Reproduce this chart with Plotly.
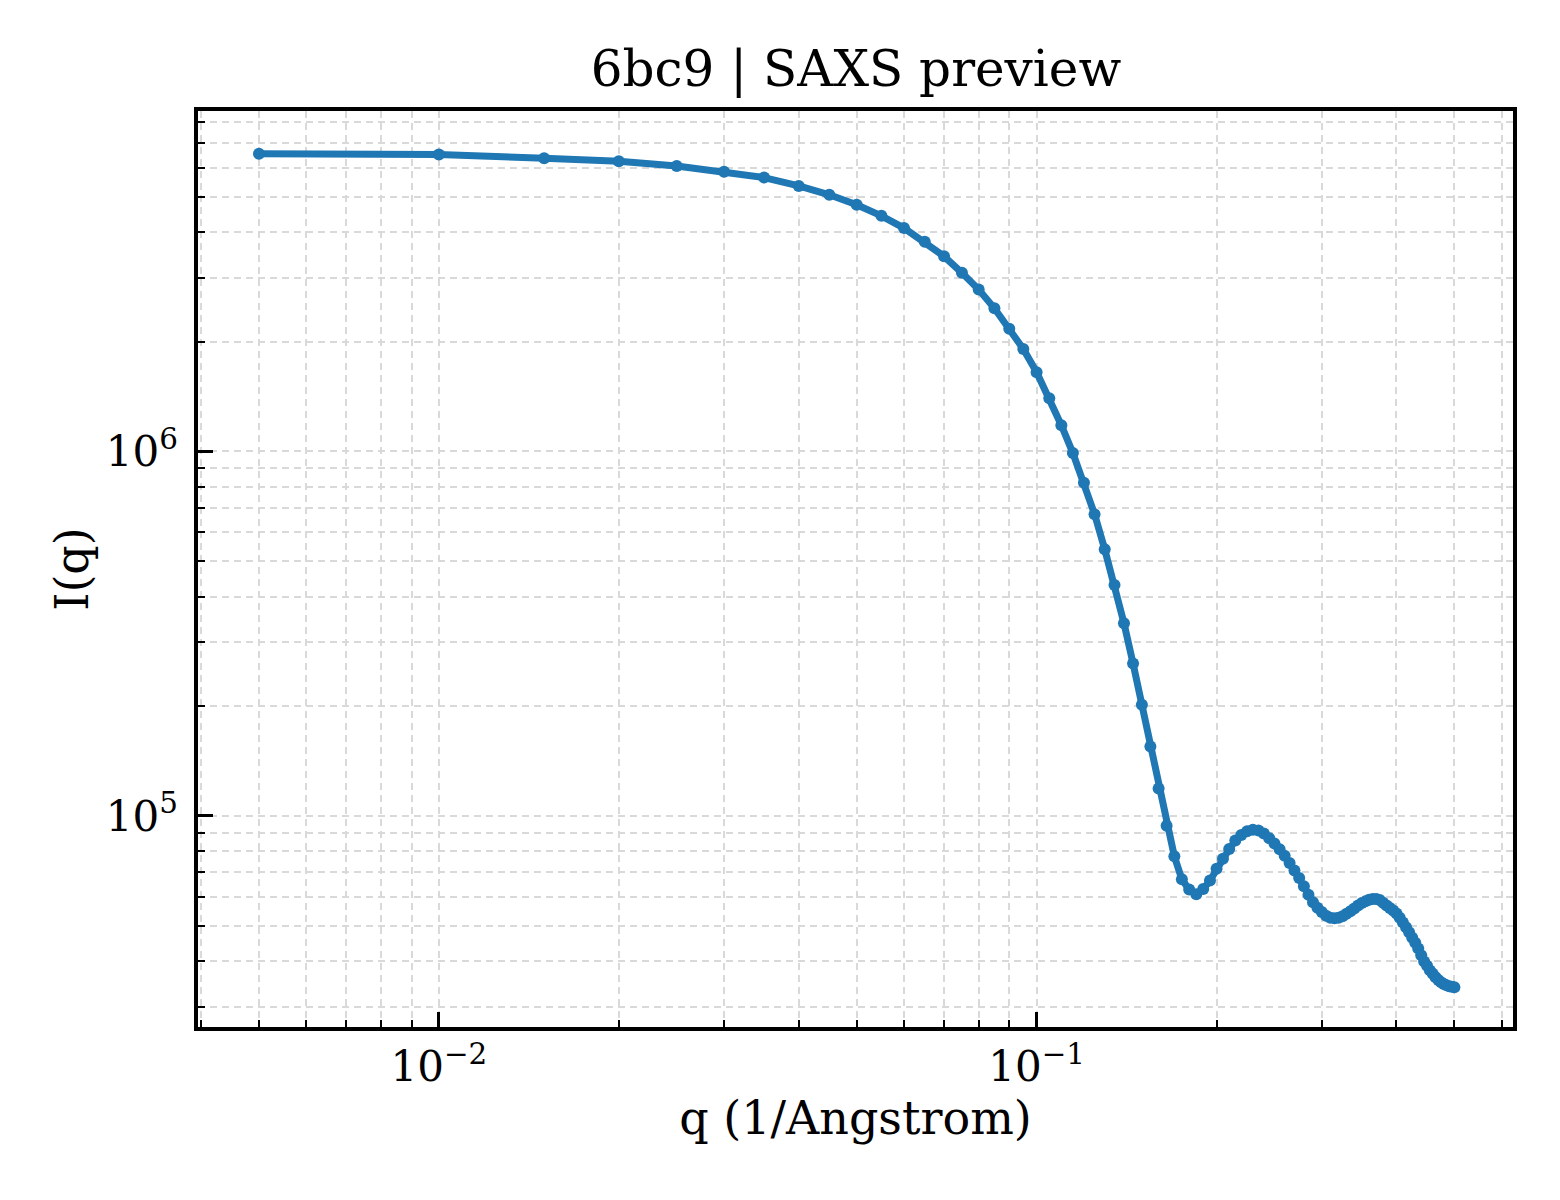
import plotly.graph_objects as go

# scattering vector q (1/Angstrom), sampled every 0.005
q = [0.005, 0.010, 0.015, 0.020, 0.025, 0.030, 0.035, 0.040, 0.045, 0.050,
     0.055, 0.060, 0.065, 0.070, 0.075, 0.080, 0.085, 0.090, 0.095, 0.100,
     0.105, 0.110, 0.115, 0.120, 0.125, 0.130, 0.135, 0.140, 0.145, 0.150,
     0.155, 0.160, 0.165, 0.170, 0.175, 0.180, 0.185, 0.190, 0.195, 0.200,
     0.205, 0.210, 0.215, 0.220, 0.225, 0.230, 0.235, 0.240, 0.245, 0.250,
     0.255, 0.260, 0.265, 0.270, 0.275, 0.280, 0.285, 0.290, 0.295, 0.300,
     0.305, 0.310, 0.315, 0.320, 0.325, 0.330, 0.335, 0.340, 0.345, 0.350,
     0.355, 0.360, 0.365, 0.370, 0.375, 0.380, 0.385, 0.390, 0.395, 0.400,
     0.405, 0.410, 0.415, 0.420, 0.425, 0.430, 0.435, 0.440, 0.445, 0.450,
     0.455, 0.460, 0.465, 0.470, 0.475, 0.480, 0.485, 0.490, 0.495, 0.500]

# intensity I(q)
intensity = [6.56e6, 6.53e6, 6.37e6, 6.25e6, 6.07e6, 5.85e6, 5.64e6, 5.35e6, 5.06e6, 4.75e6,
             4.43e6, 4.10e6, 3.76e6, 3.43e6, 3.09e6, 2.78e6, 2.47e6, 2.17e6, 1.91e6, 1.65e6,
             1.40e6, 1.18e6, 9.90e5, 8.20e5, 6.73e5, 5.39e5, 4.30e5, 3.38e5, 2.62e5, 2.02e5,
             1.55e5, 1.19e5, 9.40e4, 7.75e4, 6.70e4, 6.28e4, 6.10e4, 6.30e4, 6.65e4, 7.16e4,
             7.63e4, 8.11e4, 8.56e4, 8.87e4, 9.08e4, 9.16e4, 9.12e4, 8.95e4, 8.69e4, 8.40e4,
             8.10e4, 7.78e4, 7.43e4, 7.09e4, 6.76e4, 6.41e4, 6.08e4, 5.80e4, 5.60e4, 5.45e4,
             5.32e4, 5.26e4, 5.24e4, 5.26e4, 5.31e4, 5.39e4, 5.48e4, 5.57e4, 5.68e4, 5.77e4,
             5.83e4, 5.89e4, 5.92e4, 5.92e4, 5.88e4, 5.78e4, 5.68e4, 5.59e4, 5.50e4, 5.40e4,
             5.26e4, 5.10e4, 4.95e4, 4.80e4, 4.63e4, 4.49e4, 4.33e4, 4.15e4, 3.99e4, 3.88e4,
             3.77e4, 3.69e4, 3.61e4, 3.55e4, 3.50e4, 3.46e4, 3.43e4, 3.41e4, 3.40e4, 3.39e4]

x_ticks = [0.01, 0.1]
x_ticklabels = ["10<sup>−2</sup>", "10<sup>−1</sup>"]
y_ticks = [1e5, 1e6]
y_ticklabels = ["10<sup>5</sup>", "10<sup>6</sup>"]

x_minor = [m * 10.0 ** e for e in (-3, -2, -1) for m in range(2, 10)]
y_minor = [m * 10.0 ** e for e in (4, 5, 6) for m in range(2, 10)]

FONT = "DejaVu Serif"
GRID = "#d9d9d9"

fig = go.Figure()
fig.add_trace(go.Scatter(
    x=q, y=intensity, mode="lines+markers",
    line=dict(color="#1f77b4", width=7),
    marker=dict(color="#1f77b4", size=12),
    showlegend=False,
))

axis_common = dict(
    type="log",
    showline=True, linecolor="black", linewidth=3.5, mirror=True,
    ticks="inside", ticklen=15, tickwidth=3, tickcolor="black",
    tickfont=dict(family=FONT, size=42, color="black"),
    showgrid=True, gridcolor=GRID, gridwidth=2, griddash="7px,5px",
    zeroline=False,
)

fig.update_xaxes(
    **axis_common,
    range=[-2.403, -0.203],
    tickmode="array", tickvals=x_ticks, ticktext=x_ticklabels,
    ticklabelstandoff=0,
    minor=dict(tickmode="array", tickvals=x_minor, ticks="inside", ticklen=7,
               tickwidth=2, tickcolor="black", showgrid=True, gridcolor=GRID,
               gridwidth=1.5, griddash="7px,5px"),
    title=dict(text="q (1/Angstrom)", font=dict(family=FONT, size=46, color="black"),
               standoff=0),
)
fig.update_yaxes(
    **axis_common,
    range=[4.421, 6.934],
    tickmode="array", tickvals=y_ticks, ticktext=y_ticklabels,
    ticklabelstandoff=8,
    minor=dict(tickmode="array", tickvals=y_minor, ticks="inside", ticklen=7,
               tickwidth=2, tickcolor="black", showgrid=True, gridcolor=GRID,
               gridwidth=1.5, griddash="7px,5px"),
    title=dict(text="I(q)", font=dict(family=FONT, size=46, color="black"),
               standoff=4),
)

fig.update_layout(
    width=1560, height=1200,
    margin=dict(l=190, r=55, t=103, b=181),
    paper_bgcolor="white", plot_bgcolor="white",
    title=dict(text="6bc9 | SAXS preview", font=dict(family=FONT, size=50, color="black"),
               x=848 / 1560, xanchor="center", y=1 - 60 / 1200, yanchor="middle"),
)

fig.write_html("out.html")
